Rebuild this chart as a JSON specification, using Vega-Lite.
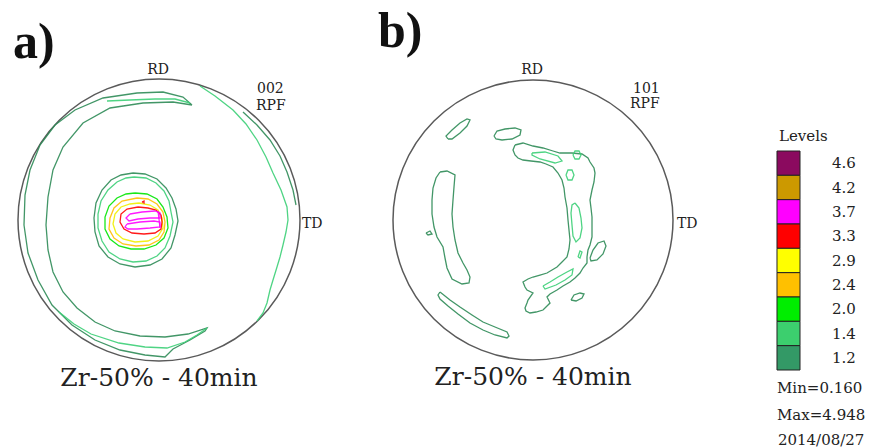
{
"$schema":"https://vega.github.io/schema/vega-lite/v6.json",
"padding":0,"bounds":"flush","spacing":0,"background":"white",
"config":{"view":{"stroke":null}},
"datasets":{
"lines":[
{"p":"a","id":"a1","lv":"1.2","i":0,"x":33,"y":115},{"p":"a","id":"a1","lv":"1.2","i":1,"x":14,"y":118},{"p":"a","id":"a1","lv":"1.2","i":2,"x":-16,"y":117},{"p":"a","id":"a1","lv":"1.2","i":3,"x":-49,"y":112},{"p":"a","id":"a1","lv":"1.2","i":4,"x":-76,"y":97},{"p":"a","id":"a1","lv":"1.2","i":5,"x":-96,"y":73},{"p":"a","id":"a1","lv":"1.2","i":6,"x":-106,"y":50},{"p":"a","id":"a1","lv":"1.2","i":7,"x":-111,"y":23},{"p":"a","id":"a1","lv":"1.2","i":8,"x":-113,"y":-5},{"p":"a","id":"a1","lv":"1.2","i":9,"x":-111,"y":-30},{"p":"a","id":"a1","lv":"1.2","i":10,"x":-106,"y":-52},{"p":"a","id":"a1","lv":"1.2","i":11,"x":-96,"y":-72},{"p":"a","id":"a1","lv":"1.2","i":12,"x":-82,"y":-88},{"p":"a","id":"a1","lv":"1.2","i":13,"x":-64,"y":-102},{"p":"a","id":"a1","lv":"1.2","i":14,"x":-44,"y":-111},{"p":"a","id":"a1","lv":"1.2","i":15,"x":-19,"y":-116},{"p":"a","id":"a1","lv":"1.2","i":16,"x":6,"y":-117},{"p":"a","id":"a1","lv":"1.2","i":17,"x":29,"y":-114},{"p":"a","id":"a1","lv":"1.2","i":18,"x":48,"y":-108},{"p":"a","id":"a1","lv":"1.2","i":19,"x":46,"y":-111},{"p":"a","id":"a1","lv":"1.2","i":20,"x":31,"y":-120},{"p":"a","id":"a1","lv":"1.2","i":21,"x":14,"y":-129},{"p":"a","id":"a1","lv":"1.2","i":22,"x":6,"y":-137},{"p":"a","id":"a1","lv":"1.2","i":23,"x":-14,"y":-135},{"p":"a","id":"a1","lv":"1.2","i":24,"x":-39,"y":-130},{"p":"a","id":"a1","lv":"1.2","i":25,"x":-64,"y":-120},{"p":"a","id":"a1","lv":"1.2","i":26,"x":-87,"y":-105},{"p":"a","id":"a1","lv":"1.2","i":27,"x":-107,"y":-85},{"p":"a","id":"a1","lv":"1.2","i":28,"x":-121,"y":-60},{"p":"a","id":"a1","lv":"1.2","i":29,"x":-131,"y":-33},{"p":"a","id":"a1","lv":"1.2","i":30,"x":-135,"y":-5},{"p":"a","id":"a1","lv":"1.2","i":31,"x":-134,"y":25},{"p":"a","id":"a1","lv":"1.2","i":32,"x":-129,"y":50},{"p":"a","id":"a1","lv":"1.2","i":33,"x":-119,"y":75},{"p":"a","id":"a1","lv":"1.2","i":34,"x":-104,"y":95},{"p":"a","id":"a1","lv":"1.2","i":35,"x":-84,"y":110},{"p":"a","id":"a1","lv":"1.2","i":36,"x":-56,"y":122},{"p":"a","id":"a1","lv":"1.2","i":37,"x":-22,"y":127},{"p":"a","id":"a1","lv":"1.2","i":38,"x":4,"y":128},{"p":"a","id":"a1","lv":"1.2","i":39,"x":24,"y":123},{"p":"a","id":"a1","lv":"1.2","i":40,"x":33,"y":115},
{"p":"a","id":"a2t","lv":"1.4","i":0,"x":-52,"y":119},{"p":"a","id":"a2t","lv":"1.4","i":1,"x":-29,"y":120},{"p":"a","id":"a2t","lv":"1.4","i":2,"x":-4,"y":121},{"p":"a","id":"a2t","lv":"1.4","i":3,"x":16,"y":121},{"p":"a","id":"a2t","lv":"1.4","i":4,"x":31,"y":117},
{"p":"a","id":"a2b","lv":"1.4","i":0,"x":-100,"y":-92},{"p":"a","id":"a2b","lv":"1.4","i":1,"x":-85,"y":-104},{"p":"a","id":"a2b","lv":"1.4","i":2,"x":-68,"y":-114},{"p":"a","id":"a2b","lv":"1.4","i":3,"x":-40,"y":-123},{"p":"a","id":"a2b","lv":"1.4","i":4,"x":-14,"y":-127},{"p":"a","id":"a2b","lv":"1.4","i":5,"x":8,"y":-128},{"p":"a","id":"a2b","lv":"1.4","i":6,"x":26,"y":-122},{"p":"a","id":"a2b","lv":"1.4","i":7,"x":38,"y":-115},{"p":"a","id":"a2b","lv":"1.4","i":8,"x":48,"y":-108},
{"p":"a","id":"a3","lv":"1.4","i":0,"x":41,"y":134},{"p":"a","id":"a3","lv":"1.4","i":1,"x":56,"y":124},{"p":"a","id":"a3","lv":"1.4","i":2,"x":74,"y":110},{"p":"a","id":"a3","lv":"1.4","i":3,"x":87,"y":96},{"p":"a","id":"a3","lv":"1.4","i":4,"x":98,"y":80},{"p":"a","id":"a3","lv":"1.4","i":5,"x":107,"y":63},{"p":"a","id":"a3","lv":"1.4","i":6,"x":114,"y":47},{"p":"a","id":"a3","lv":"1.4","i":7,"x":122,"y":30},{"p":"a","id":"a3","lv":"1.4","i":8,"x":128,"y":13},{"p":"a","id":"a3","lv":"1.4","i":9,"x":129,"y":0},{"p":"a","id":"a3","lv":"1.4","i":10,"x":127,"y":-12},{"p":"a","id":"a3","lv":"1.4","i":11,"x":124,"y":-25},{"p":"a","id":"a3","lv":"1.4","i":12,"x":121,"y":-37},{"p":"a","id":"a3","lv":"1.4","i":13,"x":118,"y":-47},{"p":"a","id":"a3","lv":"1.4","i":14,"x":114,"y":-60},{"p":"a","id":"a3","lv":"1.4","i":15,"x":111,"y":-70},{"p":"a","id":"a3","lv":"1.4","i":16,"x":108,"y":-83},{"p":"a","id":"a3","lv":"1.4","i":17,"x":104,"y":-93},{"p":"a","id":"a3","lv":"1.4","i":18,"x":98,"y":-101},
{"p":"a","id":"a4","lv":"1.2","i":0,"x":84,"y":108},{"p":"a","id":"a4","lv":"1.2","i":1,"x":98,"y":95},{"p":"a","id":"a4","lv":"1.2","i":2,"x":111,"y":80},{"p":"a","id":"a4","lv":"1.2","i":3,"x":121,"y":64},{"p":"a","id":"a4","lv":"1.2","i":4,"x":128,"y":48},{"p":"a","id":"a4","lv":"1.2","i":5,"x":134,"y":30},{"p":"a","id":"a4","lv":"1.2","i":6,"x":137,"y":15},
{"p":"a","id":"r1","lv":"1.2","i":0,"x":-26,"y":47},{"p":"a","id":"r1","lv":"1.2","i":1,"x":-14,"y":46},{"p":"a","id":"r1","lv":"1.2","i":2,"x":-2,"y":41},{"p":"a","id":"r1","lv":"1.2","i":3,"x":7,"y":32},{"p":"a","id":"r1","lv":"1.2","i":4,"x":13,"y":22},{"p":"a","id":"r1","lv":"1.2","i":5,"x":17,"y":11},{"p":"a","id":"r1","lv":"1.2","i":6,"x":19,"y":-1},{"p":"a","id":"r1","lv":"1.2","i":7,"x":16,"y":-15},{"p":"a","id":"r1","lv":"1.2","i":8,"x":12,"y":-28},{"p":"a","id":"r1","lv":"1.2","i":9,"x":3,"y":-39},{"p":"a","id":"r1","lv":"1.2","i":10,"x":-9,"y":-45},{"p":"a","id":"r1","lv":"1.2","i":11,"x":-24,"y":-47},{"p":"a","id":"r1","lv":"1.2","i":12,"x":-39,"y":-44},{"p":"a","id":"r1","lv":"1.2","i":13,"x":-51,"y":-37},{"p":"a","id":"r1","lv":"1.2","i":14,"x":-60,"y":-26},{"p":"a","id":"r1","lv":"1.2","i":15,"x":-64,"y":-12},{"p":"a","id":"r1","lv":"1.2","i":16,"x":-65,"y":2},{"p":"a","id":"r1","lv":"1.2","i":17,"x":-63,"y":17},{"p":"a","id":"r1","lv":"1.2","i":18,"x":-57,"y":30},{"p":"a","id":"r1","lv":"1.2","i":19,"x":-48,"y":40},{"p":"a","id":"r1","lv":"1.2","i":20,"x":-38,"y":45},{"p":"a","id":"r1","lv":"1.2","i":21,"x":-26,"y":47},
{"p":"a","id":"r2","lv":"1.4","i":0,"x":-25,"y":43},{"p":"a","id":"r2","lv":"1.4","i":1,"x":-13,"y":42},{"p":"a","id":"r2","lv":"1.4","i":2,"x":-3,"y":37},{"p":"a","id":"r2","lv":"1.4","i":3,"x":5,"y":29},{"p":"a","id":"r2","lv":"1.4","i":4,"x":10,"y":19},{"p":"a","id":"r2","lv":"1.4","i":5,"x":12,"y":8},{"p":"a","id":"r2","lv":"1.4","i":6,"x":14,"y":-2},{"p":"a","id":"r2","lv":"1.4","i":7,"x":11,"y":-16},{"p":"a","id":"r2","lv":"1.4","i":8,"x":6,"y":-28},{"p":"a","id":"r2","lv":"1.4","i":9,"x":-2,"y":-36},{"p":"a","id":"r2","lv":"1.4","i":10,"x":-13,"y":-41},{"p":"a","id":"r2","lv":"1.4","i":11,"x":-26,"y":-42},{"p":"a","id":"r2","lv":"1.4","i":12,"x":-39,"y":-39},{"p":"a","id":"r2","lv":"1.4","i":13,"x":-50,"y":-32},{"p":"a","id":"r2","lv":"1.4","i":14,"x":-57,"y":-21},{"p":"a","id":"r2","lv":"1.4","i":15,"x":-61,"y":-8},{"p":"a","id":"r2","lv":"1.4","i":16,"x":-61,"y":6},{"p":"a","id":"r2","lv":"1.4","i":17,"x":-58,"y":19},{"p":"a","id":"r2","lv":"1.4","i":18,"x":-51,"y":30},{"p":"a","id":"r2","lv":"1.4","i":19,"x":-42,"y":38},{"p":"a","id":"r2","lv":"1.4","i":20,"x":-33,"y":42},{"p":"a","id":"r2","lv":"1.4","i":21,"x":-25,"y":43},
{"p":"a","id":"r3","lv":"2.0","i":0,"x":-24,"y":27},{"p":"a","id":"r3","lv":"2.0","i":1,"x":-12,"y":26},{"p":"a","id":"r3","lv":"2.0","i":2,"x":-2,"y":21},{"p":"a","id":"r3","lv":"2.0","i":3,"x":4,"y":13},{"p":"a","id":"r3","lv":"2.0","i":4,"x":8,"y":3},{"p":"a","id":"r3","lv":"2.0","i":5,"x":9,"y":-8},{"p":"a","id":"r3","lv":"2.0","i":6,"x":5,"y":-18},{"p":"a","id":"r3","lv":"2.0","i":7,"x":-3,"y":-25},{"p":"a","id":"r3","lv":"2.0","i":8,"x":-15,"y":-29},{"p":"a","id":"r3","lv":"2.0","i":9,"x":-28,"y":-29},{"p":"a","id":"r3","lv":"2.0","i":10,"x":-40,"y":-26},{"p":"a","id":"r3","lv":"2.0","i":11,"x":-49,"y":-19},{"p":"a","id":"r3","lv":"2.0","i":12,"x":-54,"y":-9},{"p":"a","id":"r3","lv":"2.0","i":13,"x":-54,"y":3},{"p":"a","id":"r3","lv":"2.0","i":14,"x":-50,"y":14},{"p":"a","id":"r3","lv":"2.0","i":15,"x":-42,"y":22},{"p":"a","id":"r3","lv":"2.0","i":16,"x":-33,"y":26},{"p":"a","id":"r3","lv":"2.0","i":17,"x":-24,"y":27},
{"p":"a","id":"r4","lv":"2.4","i":0,"x":-22,"y":22},{"p":"a","id":"r4","lv":"2.4","i":1,"x":-11,"y":21},{"p":"a","id":"r4","lv":"2.4","i":2,"x":-2,"y":16},{"p":"a","id":"r4","lv":"2.4","i":3,"x":4,"y":8},{"p":"a","id":"r4","lv":"2.4","i":4,"x":6,"y":-2},{"p":"a","id":"r4","lv":"2.4","i":5,"x":5,"y":-12},{"p":"a","id":"r4","lv":"2.4","i":6,"x":0,"y":-20},{"p":"a","id":"r4","lv":"2.4","i":7,"x":-10,"y":-25},{"p":"a","id":"r4","lv":"2.4","i":8,"x":-23,"y":-26},{"p":"a","id":"r4","lv":"2.4","i":9,"x":-36,"y":-24},{"p":"a","id":"r4","lv":"2.4","i":10,"x":-45,"y":-18},{"p":"a","id":"r4","lv":"2.4","i":11,"x":-50,"y":-9},{"p":"a","id":"r4","lv":"2.4","i":12,"x":-49,"y":2},{"p":"a","id":"r4","lv":"2.4","i":13,"x":-45,"y":12},{"p":"a","id":"r4","lv":"2.4","i":14,"x":-37,"y":19},{"p":"a","id":"r4","lv":"2.4","i":15,"x":-22,"y":22},
{"p":"a","id":"r5","lv":"2.9","i":0,"x":-20,"y":17},{"p":"a","id":"r5","lv":"2.9","i":1,"x":-9,"y":15},{"p":"a","id":"r5","lv":"2.9","i":2,"x":-1,"y":10},{"p":"a","id":"r5","lv":"2.9","i":3,"x":3,"y":2},{"p":"a","id":"r5","lv":"2.9","i":4,"x":4,"y":-8},{"p":"a","id":"r5","lv":"2.9","i":5,"x":-1,"y":-16},{"p":"a","id":"r5","lv":"2.9","i":6,"x":-11,"y":-21},{"p":"a","id":"r5","lv":"2.9","i":7,"x":-24,"y":-22},{"p":"a","id":"r5","lv":"2.9","i":8,"x":-36,"y":-19},{"p":"a","id":"r5","lv":"2.9","i":9,"x":-43,"y":-13},{"p":"a","id":"r5","lv":"2.9","i":10,"x":-46,"y":-4},{"p":"a","id":"r5","lv":"2.9","i":11,"x":-44,"y":6},{"p":"a","id":"r5","lv":"2.9","i":12,"x":-38,"y":13},{"p":"a","id":"r5","lv":"2.9","i":13,"x":-29,"y":16},{"p":"a","id":"r5","lv":"2.9","i":14,"x":-20,"y":17},
{"p":"a","id":"r6","lv":"3.3","i":0,"x":-21,"y":13},{"p":"a","id":"r6","lv":"3.3","i":1,"x":-11,"y":12},{"p":"a","id":"r6","lv":"3.3","i":2,"x":-3,"y":10},{"p":"a","id":"r6","lv":"3.3","i":3,"x":2,"y":5},{"p":"a","id":"r6","lv":"3.3","i":4,"x":3,"y":-2},{"p":"a","id":"r6","lv":"3.3","i":5,"x":2,"y":-9},{"p":"a","id":"r6","lv":"3.3","i":6,"x":-4,"y":-13},{"p":"a","id":"r6","lv":"3.3","i":7,"x":-15,"y":-14},{"p":"a","id":"r6","lv":"3.3","i":8,"x":-27,"y":-13},{"p":"a","id":"r6","lv":"3.3","i":9,"x":-35,"y":-9},{"p":"a","id":"r6","lv":"3.3","i":10,"x":-39,"y":-2},{"p":"a","id":"r6","lv":"3.3","i":11,"x":-38,"y":6},{"p":"a","id":"r6","lv":"3.3","i":12,"x":-32,"y":11},{"p":"a","id":"r6","lv":"3.3","i":13,"x":-21,"y":13},
{"p":"a","id":"m1","lv":"3.7","i":0,"x":-29,"y":6},{"p":"a","id":"m1","lv":"3.7","i":1,"x":-17,"y":8},{"p":"a","id":"m1","lv":"3.7","i":2,"x":-4,"y":9},{"p":"a","id":"m1","lv":"3.7","i":3,"x":1,"y":7},{"p":"a","id":"m1","lv":"3.7","i":4,"x":1,"y":2},{"p":"a","id":"m1","lv":"3.7","i":5,"x":-9,"y":2},{"p":"a","id":"m1","lv":"3.7","i":6,"x":-21,"y":1},{"p":"a","id":"m1","lv":"3.7","i":7,"x":-30,"y":-1},{"p":"a","id":"m1","lv":"3.7","i":8,"x":-33,"y":2},{"p":"a","id":"m1","lv":"3.7","i":9,"x":-29,"y":6},
{"p":"a","id":"m2","lv":"3.7","i":0,"x":-32,"y":-4},{"p":"a","id":"m2","lv":"3.7","i":1,"x":-19,"y":-2},{"p":"a","id":"m2","lv":"3.7","i":2,"x":-5,"y":-1},{"p":"a","id":"m2","lv":"3.7","i":3,"x":1,"y":-2},{"p":"a","id":"m2","lv":"3.7","i":4,"x":1,"y":-7},{"p":"a","id":"m2","lv":"3.7","i":5,"x":-9,"y":-8},{"p":"a","id":"m2","lv":"3.7","i":6,"x":-22,"y":-9},{"p":"a","id":"m2","lv":"3.7","i":7,"x":-31,"y":-9},{"p":"a","id":"m2","lv":"3.7","i":8,"x":-34,"y":-7},{"p":"a","id":"m2","lv":"3.7","i":9,"x":-32,"y":-4},
{"p":"a","id":"m3","lv":"3.7","i":0,"x":-1,"y":9},{"p":"a","id":"m3","lv":"3.7","i":1,"x":0,"y":1},{"p":"a","id":"m3","lv":"3.7","i":2,"x":1,"y":-8},
{"p":"a","id":"dt","lv":"3.3","i":0,"x":-17,"y":18},{"p":"a","id":"dt","lv":"3.3","i":1,"x":-15,"y":19},{"p":"a","id":"dt","lv":"3.3","i":2,"x":-15,"y":17},{"p":"a","id":"dt","lv":"3.3","i":3,"x":-17,"y":18},
{"p":"b","id":"b1","lv":"1.2","i":0,"x":-85,"y":81},{"p":"b","id":"b1","lv":"1.2","i":1,"x":-87,"y":84},{"p":"b","id":"b1","lv":"1.2","i":2,"x":-81,"y":90},{"p":"b","id":"b1","lv":"1.2","i":3,"x":-73,"y":97},{"p":"b","id":"b1","lv":"1.2","i":4,"x":-66,"y":101},{"p":"b","id":"b1","lv":"1.2","i":5,"x":-63,"y":100},{"p":"b","id":"b1","lv":"1.2","i":6,"x":-66,"y":94},{"p":"b","id":"b1","lv":"1.2","i":7,"x":-73,"y":87},{"p":"b","id":"b1","lv":"1.2","i":8,"x":-81,"y":81},{"p":"b","id":"b1","lv":"1.2","i":9,"x":-85,"y":81},
{"p":"b","id":"b2","lv":"1.2","i":0,"x":-39,"y":84},{"p":"b","id":"b2","lv":"1.2","i":1,"x":-36,"y":89},{"p":"b","id":"b2","lv":"1.2","i":2,"x":-28,"y":91},{"p":"b","id":"b2","lv":"1.2","i":3,"x":-18,"y":92},{"p":"b","id":"b2","lv":"1.2","i":4,"x":-12,"y":90},{"p":"b","id":"b2","lv":"1.2","i":5,"x":-13,"y":85},{"p":"b","id":"b2","lv":"1.2","i":6,"x":-21,"y":81},{"p":"b","id":"b2","lv":"1.2","i":7,"x":-31,"y":80},{"p":"b","id":"b2","lv":"1.2","i":8,"x":-37,"y":81},{"p":"b","id":"b2","lv":"1.2","i":9,"x":-39,"y":84},
{"p":"b","id":"b3","lv":"1.2","i":0,"x":-93,"y":48},{"p":"b","id":"b3","lv":"1.2","i":1,"x":-86,"y":49},{"p":"b","id":"b3","lv":"1.2","i":2,"x":-78,"y":45},{"p":"b","id":"b3","lv":"1.2","i":3,"x":-79,"y":33},{"p":"b","id":"b3","lv":"1.2","i":4,"x":-80,"y":20},{"p":"b","id":"b3","lv":"1.2","i":5,"x":-81,"y":6},{"p":"b","id":"b3","lv":"1.2","i":6,"x":-80,"y":-7},{"p":"b","id":"b3","lv":"1.2","i":7,"x":-78,"y":-20},{"p":"b","id":"b3","lv":"1.2","i":8,"x":-75,"y":-33},{"p":"b","id":"b3","lv":"1.2","i":9,"x":-70,"y":-43},{"p":"b","id":"b3","lv":"1.2","i":10,"x":-66,"y":-50},{"p":"b","id":"b3","lv":"1.2","i":11,"x":-63,"y":-57},{"p":"b","id":"b3","lv":"1.2","i":12,"x":-64,"y":-63},{"p":"b","id":"b3","lv":"1.2","i":13,"x":-71,"y":-64},{"p":"b","id":"b3","lv":"1.2","i":14,"x":-81,"y":-59},{"p":"b","id":"b3","lv":"1.2","i":15,"x":-86,"y":-48},{"p":"b","id":"b3","lv":"1.2","i":16,"x":-88,"y":-38},{"p":"b","id":"b3","lv":"1.2","i":17,"x":-90,"y":-27},{"p":"b","id":"b3","lv":"1.2","i":18,"x":-96,"y":-17},{"p":"b","id":"b3","lv":"1.2","i":19,"x":-99,"y":-7},{"p":"b","id":"b3","lv":"1.2","i":20,"x":-101,"y":6},{"p":"b","id":"b3","lv":"1.2","i":21,"x":-101,"y":20},{"p":"b","id":"b3","lv":"1.2","i":22,"x":-100,"y":32},{"p":"b","id":"b3","lv":"1.2","i":23,"x":-97,"y":42},{"p":"b","id":"b3","lv":"1.2","i":24,"x":-93,"y":48},
{"p":"b","id":"bt","lv":"1.2","i":0,"x":-107,"y":-13},{"p":"b","id":"bt","lv":"1.2","i":1,"x":-103,"y":-11},{"p":"b","id":"bt","lv":"1.2","i":2,"x":-101,"y":-14},{"p":"b","id":"bt","lv":"1.2","i":3,"x":-105,"y":-15},{"p":"b","id":"bt","lv":"1.2","i":4,"x":-107,"y":-13},
{"p":"b","id":"b4","lv":"1.2","i":0,"x":-93,"y":-72},{"p":"b","id":"b4","lv":"1.2","i":1,"x":-83,"y":-80},{"p":"b","id":"b4","lv":"1.2","i":2,"x":-73,"y":-87},{"p":"b","id":"b4","lv":"1.2","i":3,"x":-61,"y":-95},{"p":"b","id":"b4","lv":"1.2","i":4,"x":-50,"y":-102},{"p":"b","id":"b4","lv":"1.2","i":5,"x":-38,"y":-107},{"p":"b","id":"b4","lv":"1.2","i":6,"x":-26,"y":-112},{"p":"b","id":"b4","lv":"1.2","i":7,"x":-24,"y":-116},{"p":"b","id":"b4","lv":"1.2","i":8,"x":-26,"y":-118},{"p":"b","id":"b4","lv":"1.2","i":9,"x":-38,"y":-115},{"p":"b","id":"b4","lv":"1.2","i":10,"x":-50,"y":-110},{"p":"b","id":"b4","lv":"1.2","i":11,"x":-63,"y":-103},{"p":"b","id":"b4","lv":"1.2","i":12,"x":-75,"y":-94},{"p":"b","id":"b4","lv":"1.2","i":13,"x":-85,"y":-86},{"p":"b","id":"b4","lv":"1.2","i":14,"x":-93,"y":-79},{"p":"b","id":"b4","lv":"1.2","i":15,"x":-95,"y":-75},{"p":"b","id":"b4","lv":"1.2","i":16,"x":-93,"y":-72},
{"p":"b","id":"b5","lv":"1.2","i":0,"x":-18,"y":75},{"p":"b","id":"b5","lv":"1.2","i":1,"x":-10,"y":77},{"p":"b","id":"b5","lv":"1.2","i":2,"x":0,"y":74},{"p":"b","id":"b5","lv":"1.2","i":3,"x":10,"y":72},{"p":"b","id":"b5","lv":"1.2","i":4,"x":20,"y":69},{"p":"b","id":"b5","lv":"1.2","i":5,"x":27,"y":67},{"p":"b","id":"b5","lv":"1.2","i":6,"x":39,"y":67},{"p":"b","id":"b5","lv":"1.2","i":7,"x":49,"y":66},{"p":"b","id":"b5","lv":"1.2","i":8,"x":55,"y":62},{"p":"b","id":"b5","lv":"1.2","i":9,"x":57,"y":58},{"p":"b","id":"b5","lv":"1.2","i":10,"x":61,"y":52},{"p":"b","id":"b5","lv":"1.2","i":11,"x":62,"y":47},{"p":"b","id":"b5","lv":"1.2","i":12,"x":61,"y":38},{"p":"b","id":"b5","lv":"1.2","i":13,"x":59,"y":30},{"p":"b","id":"b5","lv":"1.2","i":14,"x":57,"y":20},{"p":"b","id":"b5","lv":"1.2","i":15,"x":58,"y":12},{"p":"b","id":"b5","lv":"1.2","i":16,"x":59,"y":3},{"p":"b","id":"b5","lv":"1.2","i":17,"x":59,"y":-7},{"p":"b","id":"b5","lv":"1.2","i":18,"x":59,"y":-17},{"p":"b","id":"b5","lv":"1.2","i":19,"x":57,"y":-25},{"p":"b","id":"b5","lv":"1.2","i":20,"x":55,"y":-30},{"p":"b","id":"b5","lv":"1.2","i":21,"x":54,"y":-37},{"p":"b","id":"b5","lv":"1.2","i":22,"x":54,"y":-43},{"p":"b","id":"b5","lv":"1.2","i":23,"x":50,"y":-48},{"p":"b","id":"b5","lv":"1.2","i":24,"x":47,"y":-53},{"p":"b","id":"b5","lv":"1.2","i":25,"x":42,"y":-58},{"p":"b","id":"b5","lv":"1.2","i":26,"x":37,"y":-62},{"p":"b","id":"b5","lv":"1.2","i":27,"x":30,"y":-66},{"p":"b","id":"b5","lv":"1.2","i":28,"x":24,"y":-70},{"p":"b","id":"b5","lv":"1.2","i":29,"x":17,"y":-74},{"p":"b","id":"b5","lv":"1.2","i":30,"x":14,"y":-77},{"p":"b","id":"b5","lv":"1.2","i":31,"x":16,"y":-81},{"p":"b","id":"b5","lv":"1.2","i":32,"x":17,"y":-83},{"p":"b","id":"b5","lv":"1.2","i":33,"x":13,"y":-87},{"p":"b","id":"b5","lv":"1.2","i":34,"x":10,"y":-90},{"p":"b","id":"b5","lv":"1.2","i":35,"x":3,"y":-92},{"p":"b","id":"b5","lv":"1.2","i":36,"x":-3,"y":-93},{"p":"b","id":"b5","lv":"1.2","i":37,"x":-7,"y":-91},{"p":"b","id":"b5","lv":"1.2","i":38,"x":-8,"y":-88},{"p":"b","id":"b5","lv":"1.2","i":39,"x":-6,"y":-83},{"p":"b","id":"b5","lv":"1.2","i":40,"x":-5,"y":-80},{"p":"b","id":"b5","lv":"1.2","i":41,"x":0,"y":-73},{"p":"b","id":"b5","lv":"1.2","i":42,"x":-6,"y":-70},{"p":"b","id":"b5","lv":"1.2","i":43,"x":-8,"y":-67},{"p":"b","id":"b5","lv":"1.2","i":44,"x":-10,"y":-62},{"p":"b","id":"b5","lv":"1.2","i":45,"x":-5,"y":-59},{"p":"b","id":"b5","lv":"1.2","i":46,"x":0,"y":-57},{"p":"b","id":"b5","lv":"1.2","i":47,"x":7,"y":-55},{"p":"b","id":"b5","lv":"1.2","i":48,"x":14,"y":-53},{"p":"b","id":"b5","lv":"1.2","i":49,"x":19,"y":-50},{"p":"b","id":"b5","lv":"1.2","i":50,"x":24,"y":-47},{"p":"b","id":"b5","lv":"1.2","i":51,"x":29,"y":-42},{"p":"b","id":"b5","lv":"1.2","i":52,"x":34,"y":-37},{"p":"b","id":"b5","lv":"1.2","i":53,"x":36,"y":-29},{"p":"b","id":"b5","lv":"1.2","i":54,"x":37,"y":-20},{"p":"b","id":"b5","lv":"1.2","i":55,"x":36,"y":-10},{"p":"b","id":"b5","lv":"1.2","i":56,"x":35,"y":0},{"p":"b","id":"b5","lv":"1.2","i":57,"x":34,"y":12},{"p":"b","id":"b5","lv":"1.2","i":58,"x":32,"y":23},{"p":"b","id":"b5","lv":"1.2","i":59,"x":31,"y":32},{"p":"b","id":"b5","lv":"1.2","i":60,"x":29,"y":40},{"p":"b","id":"b5","lv":"1.2","i":61,"x":25,"y":47},{"p":"b","id":"b5","lv":"1.2","i":62,"x":20,"y":53},{"p":"b","id":"b5","lv":"1.2","i":63,"x":13,"y":56},{"p":"b","id":"b5","lv":"1.2","i":64,"x":7,"y":58},{"p":"b","id":"b5","lv":"1.2","i":65,"x":-2,"y":59},{"p":"b","id":"b5","lv":"1.2","i":66,"x":-10,"y":60},{"p":"b","id":"b5","lv":"1.2","i":67,"x":-15,"y":62},{"p":"b","id":"b5","lv":"1.2","i":68,"x":-18,"y":65},{"p":"b","id":"b5","lv":"1.2","i":69,"x":-20,"y":70},{"p":"b","id":"b5","lv":"1.2","i":70,"x":-18,"y":75},
{"p":"b","id":"b6","lv":"1.4","i":0,"x":-1,"y":67},{"p":"b","id":"b6","lv":"1.4","i":1,"x":12,"y":68},{"p":"b","id":"b6","lv":"1.4","i":2,"x":25,"y":64},{"p":"b","id":"b6","lv":"1.4","i":3,"x":29,"y":59},{"p":"b","id":"b6","lv":"1.4","i":4,"x":22,"y":57},{"p":"b","id":"b6","lv":"1.4","i":5,"x":7,"y":61},{"p":"b","id":"b6","lv":"1.4","i":6,"x":-1,"y":65},{"p":"b","id":"b6","lv":"1.4","i":7,"x":-1,"y":67},
{"p":"b","id":"b7","lv":"1.4","i":0,"x":40,"y":65},{"p":"b","id":"b7","lv":"1.4","i":1,"x":42,"y":69},{"p":"b","id":"b7","lv":"1.4","i":2,"x":46,"y":69},{"p":"b","id":"b7","lv":"1.4","i":3,"x":48,"y":65},{"p":"b","id":"b7","lv":"1.4","i":4,"x":46,"y":61},{"p":"b","id":"b7","lv":"1.4","i":5,"x":42,"y":61},{"p":"b","id":"b7","lv":"1.4","i":6,"x":40,"y":65},
{"p":"b","id":"b8","lv":"1.4","i":0,"x":33,"y":45},{"p":"b","id":"b8","lv":"1.4","i":1,"x":35,"y":50},{"p":"b","id":"b8","lv":"1.4","i":2,"x":39,"y":50},{"p":"b","id":"b8","lv":"1.4","i":3,"x":41,"y":45},{"p":"b","id":"b8","lv":"1.4","i":4,"x":39,"y":40},{"p":"b","id":"b8","lv":"1.4","i":5,"x":35,"y":40},{"p":"b","id":"b8","lv":"1.4","i":6,"x":33,"y":45},
{"p":"b","id":"b9","lv":"1.4","i":0,"x":42,"y":17},{"p":"b","id":"b9","lv":"1.4","i":1,"x":46,"y":12},{"p":"b","id":"b9","lv":"1.4","i":2,"x":48,"y":2},{"p":"b","id":"b9","lv":"1.4","i":3,"x":49,"y":-8},{"p":"b","id":"b9","lv":"1.4","i":4,"x":47,"y":-18},{"p":"b","id":"b9","lv":"1.4","i":5,"x":43,"y":-22},{"p":"b","id":"b9","lv":"1.4","i":6,"x":40,"y":-16},{"p":"b","id":"b9","lv":"1.4","i":7,"x":39,"y":-5},{"p":"b","id":"b9","lv":"1.4","i":8,"x":38,"y":7},{"p":"b","id":"b9","lv":"1.4","i":9,"x":39,"y":15},{"p":"b","id":"b9","lv":"1.4","i":10,"x":42,"y":17},
{"p":"b","id":"b10","lv":"1.4","i":0,"x":45,"y":-37},{"p":"b","id":"b10","lv":"1.4","i":1,"x":47,"y":-31},{"p":"b","id":"b10","lv":"1.4","i":2,"x":49,"y":-32},{"p":"b","id":"b10","lv":"1.4","i":3,"x":47,"y":-38},{"p":"b","id":"b10","lv":"1.4","i":4,"x":45,"y":-37},
{"p":"b","id":"b11","lv":"1.4","i":0,"x":10,"y":-66},{"p":"b","id":"b11","lv":"1.4","i":1,"x":17,"y":-62},{"p":"b","id":"b11","lv":"1.4","i":2,"x":25,"y":-57},{"p":"b","id":"b11","lv":"1.4","i":3,"x":34,"y":-52},{"p":"b","id":"b11","lv":"1.4","i":4,"x":40,"y":-49},{"p":"b","id":"b11","lv":"1.4","i":5,"x":39,"y":-55},{"p":"b","id":"b11","lv":"1.4","i":6,"x":32,"y":-60},{"p":"b","id":"b11","lv":"1.4","i":7,"x":23,"y":-65},{"p":"b","id":"b11","lv":"1.4","i":8,"x":12,"y":-69},{"p":"b","id":"b11","lv":"1.4","i":9,"x":10,"y":-66},
{"p":"b","id":"b12","lv":"1.2","i":0,"x":57,"y":-38},{"p":"b","id":"b12","lv":"1.2","i":1,"x":60,"y":-30},{"p":"b","id":"b12","lv":"1.2","i":2,"x":65,"y":-23},{"p":"b","id":"b12","lv":"1.2","i":3,"x":71,"y":-21},{"p":"b","id":"b12","lv":"1.2","i":4,"x":73,"y":-26},{"p":"b","id":"b12","lv":"1.2","i":5,"x":70,"y":-34},{"p":"b","id":"b12","lv":"1.2","i":6,"x":64,"y":-40},{"p":"b","id":"b12","lv":"1.2","i":7,"x":58,"y":-41},{"p":"b","id":"b12","lv":"1.2","i":8,"x":57,"y":-38},
{"p":"b","id":"b13","lv":"1.2","i":0,"x":38,"y":-80},{"p":"b","id":"b13","lv":"1.2","i":1,"x":41,"y":-75},{"p":"b","id":"b13","lv":"1.2","i":2,"x":47,"y":-73},{"p":"b","id":"b13","lv":"1.2","i":3,"x":51,"y":-74},{"p":"b","id":"b13","lv":"1.2","i":4,"x":49,"y":-78},{"p":"b","id":"b13","lv":"1.2","i":5,"x":43,"y":-81},{"p":"b","id":"b13","lv":"1.2","i":6,"x":38,"y":-80}
],
"labels":[
{"p":"a","k":"l","t":"002","x":98,"y":127},{"p":"a","k":"l","t":"RPF","x":97,"y":110},{"p":"a","k":"l","t":"TD","x":143,"y":-8},{"p":"a","k":"c","t":"RD","x":-1,"y":146},{"p":"a","k":"cap","t":"Zr-50% - 40min","x":0,"y":-166},{"p":"a","k":"tag","t":"a)","x":-146,"y":162},
{"p":"b","k":"l","t":"101","x":100,"y":127},{"p":"b","k":"l","t":"RPF","x":97,"y":112},{"p":"b","k":"l","t":"TD","x":144,"y":-8},{"p":"b","k":"c","t":"RD","x":-1,"y":146},{"p":"b","k":"cap","t":"Zr-50% - 40min","x":0,"y":-165},{"p":"b","k":"tag","t":"b)","x":-155,"y":173}
],
"levels":[{"lv":"4.6"},{"lv":"4.2"},{"lv":"3.7"},{"lv":"3.3"},{"lv":"2.9"},{"lv":"2.4"},{"lv":"2.0"},{"lv":"1.4"},{"lv":"1.2"}],
"notes":[{"t":"Levels","x":0.087,"y":-0.6},{"t":"Min=0.160","x":0,"y":9.72},{"t":"Max=4.948","x":0,"y":10.85},{"t":"2014/08/27","x":0.04,"y":11.86}]
},
"hconcat":[
{"width":346,"height":448,
"layer":[
{"data":{"values":[{"x":0,"y":0}]},"mark":{"type":"point","shape":"circle","filled":false,"size":79524,"color":"#5a5a5a","strokeWidth":1.5,"opacity":1},
"encoding":{"x":{"field":"x","type":"quantitative","scale":{"domain":[-159,187],"nice":false,"zero":false},"axis":null},"y":{"field":"y","type":"quantitative","scale":{"domain":[-228,220],"nice":false,"zero":false},"axis":null}}},
{"data":{"name":"lines"},"transform":[{"filter":"datum.p==='a'"}],"mark":{"type":"line","strokeWidth":1.3,"opacity":0.9},
"encoding":{"x":{"field":"x","type":"quantitative"},"y":{"field":"y","type":"quantitative"},"detail":{"field":"id"},"order":{"field":"i","type":"quantitative"},
"color":{"field":"lv","type":"nominal","legend":null,"scale":{"domain":["1.2","1.4","2.0","2.4","2.9","3.3","3.7","4.2","4.6"],"range":["#2e8b57","#3ccf77","#00e600","#ffbf00","#f0f000","#ff0000","#ff00ff","#cc9900","#8b0a5f"]}}}},
{"data":{"name":"labels"},"transform":[{"filter":"datum.p==='a' && datum.k==='l'"}],"mark":{"type":"text","align":"left","baseline":"alphabetic","font":"DejaVu Serif","fontSize":14,"color":"#222222"},"encoding":{"x":{"field":"x","type":"quantitative"},"y":{"field":"y","type":"quantitative"},"text":{"field":"t"}}},
{"data":{"name":"labels"},"transform":[{"filter":"datum.p==='a' && datum.k==='c'"}],"mark":{"type":"text","align":"center","baseline":"alphabetic","font":"DejaVu Serif","fontSize":14,"color":"#222222"},"encoding":{"x":{"field":"x","type":"quantitative"},"y":{"field":"y","type":"quantitative"},"text":{"field":"t"}}},
{"data":{"name":"labels"},"transform":[{"filter":"datum.p==='a' && datum.k==='cap'"}],"mark":{"type":"text","align":"center","baseline":"alphabetic","font":"DejaVu Serif","fontSize":25,"color":"#222222"},"encoding":{"x":{"field":"x","type":"quantitative"},"y":{"field":"y","type":"quantitative"},"text":{"field":"t"}}},
{"data":{"name":"labels"},"transform":[{"filter":"datum.p==='a' && datum.k==='tag'"}],"mark":{"type":"text","align":"left","baseline":"alphabetic","font":"Liberation Serif","fontWeight":"bold","fontSize":50,"color":"#111111"},"encoding":{"x":{"field":"x","type":"quantitative"},"y":{"field":"y","type":"quantitative"},"text":{"field":"t"}}}
]},
{"width":374,"height":448,
"layer":[
{"data":{"values":[{"x":0,"y":0}]},"mark":{"type":"point","shape":"circle","filled":false,"size":78400,"color":"#5a5a5a","strokeWidth":1.5,"opacity":1},
"encoding":{"x":{"field":"x","type":"quantitative","scale":{"domain":[-187,187],"nice":false,"zero":false},"axis":null},"y":{"field":"y","type":"quantitative","scale":{"domain":[-228,220],"nice":false,"zero":false},"axis":null}}},
{"data":{"name":"lines"},"transform":[{"filter":"datum.p==='b'"}],"mark":{"type":"line","strokeWidth":1.3,"opacity":0.9},
"encoding":{"x":{"field":"x","type":"quantitative"},"y":{"field":"y","type":"quantitative"},"detail":{"field":"id"},"order":{"field":"i","type":"quantitative"},
"color":{"field":"lv","type":"nominal","legend":null,"scale":{"domain":["1.2","1.4","2.0","2.4","2.9","3.3","3.7","4.2","4.6"],"range":["#45a874","#5cd892","#00e600","#ffbf00","#f0f000","#ff0000","#ff00ff","#cc9900","#8b0a5f"]}}}},
{"data":{"name":"labels"},"transform":[{"filter":"datum.p==='b' && datum.k==='l'"}],"mark":{"type":"text","align":"left","baseline":"alphabetic","font":"DejaVu Serif","fontSize":14,"color":"#222222"},"encoding":{"x":{"field":"x","type":"quantitative"},"y":{"field":"y","type":"quantitative"},"text":{"field":"t"}}},
{"data":{"name":"labels"},"transform":[{"filter":"datum.p==='b' && datum.k==='c'"}],"mark":{"type":"text","align":"center","baseline":"alphabetic","font":"DejaVu Serif","fontSize":14,"color":"#222222"},"encoding":{"x":{"field":"x","type":"quantitative"},"y":{"field":"y","type":"quantitative"},"text":{"field":"t"}}},
{"data":{"name":"labels"},"transform":[{"filter":"datum.p==='b' && datum.k==='cap'"}],"mark":{"type":"text","align":"center","baseline":"alphabetic","font":"DejaVu Serif","fontSize":25,"color":"#222222"},"encoding":{"x":{"field":"x","type":"quantitative"},"y":{"field":"y","type":"quantitative"},"text":{"field":"t"}}},
{"data":{"name":"labels"},"transform":[{"filter":"datum.p==='b' && datum.k==='tag'"}],"mark":{"type":"text","align":"left","baseline":"alphabetic","font":"Liberation Serif","fontWeight":"bold","fontSize":50,"color":"#111111"},"encoding":{"x":{"field":"x","type":"quantitative"},"y":{"field":"y","type":"quantitative"},"text":{"field":"t"}}}
]},
{"width":173,"height":448,
"resolve":{"scale":{"y":"independent"}},
"layer":[
{"data":{"name":"levels"},"mark":{"type":"rect","stroke":"#222222","strokeWidth":1},
"encoding":{"x":{"datum":0,"type":"quantitative","scale":{"domain":[-2.478,5.043],"nice":false,"zero":false},"axis":null},"x2":{"datum":1},
"y":{"field":"lv","type":"ordinal","scale":{"domain":["4.6","4.2","3.7","3.3","2.9","2.4","2.0","1.4","1.2"],"range":[151,370],"paddingInner":0,"paddingOuter":0},"axis":null},
"fill":{"field":"lv","type":"nominal","legend":null,"scale":{"domain":["1.2","1.4","2.0","2.4","2.9","3.3","3.7","4.2","4.6"],"range":["#339966","#3ccf6e","#00ee00","#ffc000","#ffff00","#ff0000","#ff00ff","#cc9900","#8b0a5f"]}}}},
{"data":{"name":"levels"},"mark":{"type":"text","align":"left","baseline":"middle","font":"DejaVu Serif","fontSize":15,"color":"#222222"},
"encoding":{"x":{"datum":2.391,"type":"quantitative"},
"y":{"field":"lv","type":"ordinal","scale":{"domain":["4.6","4.2","3.7","3.3","2.9","2.4","2.0","1.4","1.2"],"range":[151,370],"padding":0.5},"axis":null},
"text":{"field":"lv"}}},
{"data":{"name":"notes"},"mark":{"type":"text","align":"left","baseline":"middle","font":"DejaVu Serif","fontSize":15,"color":"#222222"},
"encoding":{"x":{"field":"x","type":"quantitative"},"y":{"field":"y","type":"quantitative","scale":{"domain":[-6.206,12.206],"reverse":true,"nice":false,"zero":false},"axis":null},"text":{"field":"t"}}}
]}
]
}
